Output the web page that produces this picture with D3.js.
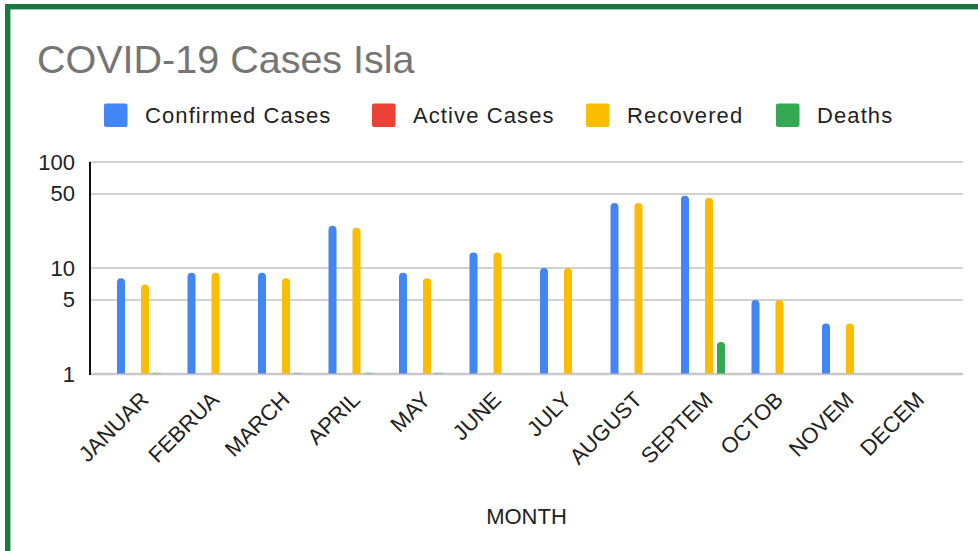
<!DOCTYPE html>
<html>
<head>
<meta charset="utf-8">
<script src="https://cdn.jsdelivr.net/npm/d3@7"></script>
<style>
  html, body { margin: 0; padding: 0; background: #fff; }
  svg { display: block; font-family: "Liberation Sans", Arial, sans-serif; }
</style>
</head>
<body>
<svg id="chart" width="978" height="551"></svg>
<script>
const months = ["JANUAR","FEBRUA","MARCH","APRIL","MAY","JUNE","JULY","AUGUST","SEPTEM","OCTOB","NOVEM","DECEM"];
const seriesNames = ["Confirmed Cases","Active Cases","Recovered","Deaths"];
const seriesColors = ["#4285f4","#ea4335","#fbbc04","#34a853"];
const confirmed = [8, 9, 9, 25, 9, 14, 10, 41, 48, 5, 3, 0];
const active    = [0, 0, 0, 0, 0, 0, 0, 0, 0, 0, 0, 0];
const recovered = [7, 9, 8, 24, 8, 14, 10, 41, 46, 5, 3, 0];
const deaths    = [1, 0, 1, 1, 1, 0, 0, 0, 2, 0, 0, 0];
const yTicks = [1, 5, 10, 50, 100];
const seriesValues = [confirmed, active, recovered, deaths];

const svg = d3.select("#chart");

// border
svg.append("rect")
  .attr("x", 7.7).attr("y", 6.7).attr("width", 1100).attr("height", 700)
  .attr("fill", "none").attr("stroke", "#177a3e").attr("stroke-width", 5.4);

// title
svg.append("text")
  .attr("x", 37).attr("y", 73)
  .attr("font-size", 39.5).attr("fill", "#757575")
  .text("COVID-19 Cases Isla");

// legend
const legendX = [104, 372, 586, 776];
const lg = svg.append("g");
seriesNames.forEach((name, i) => {
  lg.append("rect").attr("x", legendX[i]).attr("y", 103.5).attr("width", 23.5).attr("height", 23.5)
    .attr("rx", 2).attr("fill", seriesColors[i]);
  lg.append("text").attr("x", legendX[i] + 41).attr("y", 122.5)
    .attr("font-size", 22).attr("letter-spacing", 1.1).attr("fill", "#222").text(name);
});

// scales
const plotLeft = 90, plotRight = 963;
const y = d3.scaleLog().domain([1, 100]).range([374, 162]);
const x0 = d3.scaleBand().domain(months).range([103.75, 949.75]).padding(0);
const x1 = d3.scalePoint().domain(seriesNames).range([-18, 18]);
const barW = 8;

// gridlines
const grid = svg.append("g");
yTicks.forEach(t => {
  grid.append("line")
    .attr("x1", plotLeft).attr("x2", plotRight)
    .attr("y1", y(t)).attr("y2", y(t))
    .attr("stroke", t === 1 ? "#c8c8c8" : "#d2d2d2").attr("stroke-width", t === 1 ? 2.4 : 2);
});

// y axis
const yAxis = d3.axisLeft(y).tickValues(yTicks).tickFormat(d3.format("d")).tickSize(0).tickPadding(15);
const gy = svg.append("g").attr("transform", `translate(${plotLeft},0)`).call(yAxis);
gy.select(".domain").remove();
gy.selectAll("text").attr("font-size", 22).attr("fill", "#222")
  .attr("font-family", "Liberation Sans, Arial, sans-serif");
svg.append("line").attr("x1", plotLeft).attr("x2", plotLeft).attr("y1", 162).attr("y2", 375)
  .attr("stroke", "#111").attr("stroke-width", 2);

// bars
function barPath(cx, top, bottom, w) {
  const r = w / 2;
  const h = bottom - top;
  if (h <= r) {
    return `M${cx - r},${bottom} L${cx - r},${top} L${cx + r},${top} L${cx + r},${bottom} Z`;
  }
  return `M${cx - r},${bottom} L${cx - r},${top + r} A${r},${r} 0 0 1 ${cx + r},${top + r} L${cx + r},${bottom} Z`;
}
const bars = svg.append("g");
seriesNames.forEach((name, si) => {
  seriesValues[si].forEach((v, mi) => {
    if (!(v >= 1)) return;
    const cx = x0(months[mi]) + x0.bandwidth() / 2 + x1(name);
    const top = y(v), bottom = y(1);
    if (bottom - top < 0.5) {
      bars.append("rect").attr("x", cx - barW / 2).attr("y", bottom - 1.5).attr("width", barW).attr("height", 1.5)
        .attr("fill", seriesColors[si]).attr("opacity", 0.3);
    } else {
      bars.append("path").attr("d", barPath(cx, top, bottom - 0.5, barW)).attr("fill", seriesColors[si]);
    }
  });
});

// x labels
const xl = svg.append("g");
months.forEach(m => {
  const cx = x0(m) + x0.bandwidth() / 2;
  xl.append("text")
    .attr("transform", `translate(${cx + 11},${401}) rotate(-45)`)
    .attr("text-anchor", "end").attr("font-size", 22).attr("fill", "#222").text(m);
});

// x axis title
svg.append("text").attr("x", (plotLeft + plotRight) / 2).attr("y", 523.5)
  .attr("text-anchor", "middle").attr("font-size", 22).attr("fill", "#222").text("MONTH");
</script>
</body>
</html>
